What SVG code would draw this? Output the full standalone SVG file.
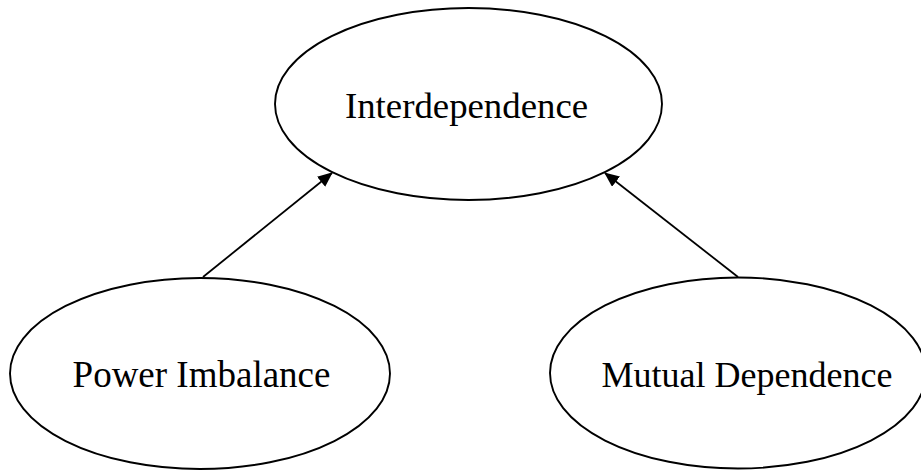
<svg xmlns="http://www.w3.org/2000/svg" width="921" height="471" viewBox="0 0 921 471">
  <style>
    .node ellipse { fill: #ffffff; stroke: #000000; stroke-width: 1.9; }
    .node text { font-family: "Liberation Serif", "Times New Roman", serif; font-size: 36px; fill: #000000; text-anchor: middle; }
    .edge { stroke: #000000; stroke-width: 1.8; fill: none; marker-end: url(#arrow); }
  </style>
  <defs>
    <marker id="arrow" markerWidth="15" markerHeight="13" refX="14" refY="6.5" orient="auto" markerUnits="userSpaceOnUse">
      <path d="M0,0 L15,6.5 L0,13 Z" fill="#000000"/>
    </marker>
  </defs>
  <rect width="921" height="471" fill="#ffffff"/>

  <g id="connectors">
    <line class="edge" x1="203" y1="277" x2="332" y2="173"/>
    <line class="edge" x1="738" y1="277" x2="605" y2="173"/>
  </g>

  <g id="interdependence" class="node">
    <ellipse cx="468.5" cy="104" rx="193.5" ry="96"/>
    <text x="466.5" y="118" style="font-size:36.8px">Interdependence</text>
  </g>

  <g id="power-imbalance" class="node">
    <ellipse cx="200" cy="373.5" rx="190" ry="95.5"/>
    <text x="201.5" y="387" style="font-size:37px">Power Imbalance</text>
  </g>

  <g id="mutual-dependence" class="node">
    <ellipse cx="738" cy="373" rx="188" ry="95.5"/>
    <text x="747" y="387">Mutual Dependence</text>
  </g>
</svg>
